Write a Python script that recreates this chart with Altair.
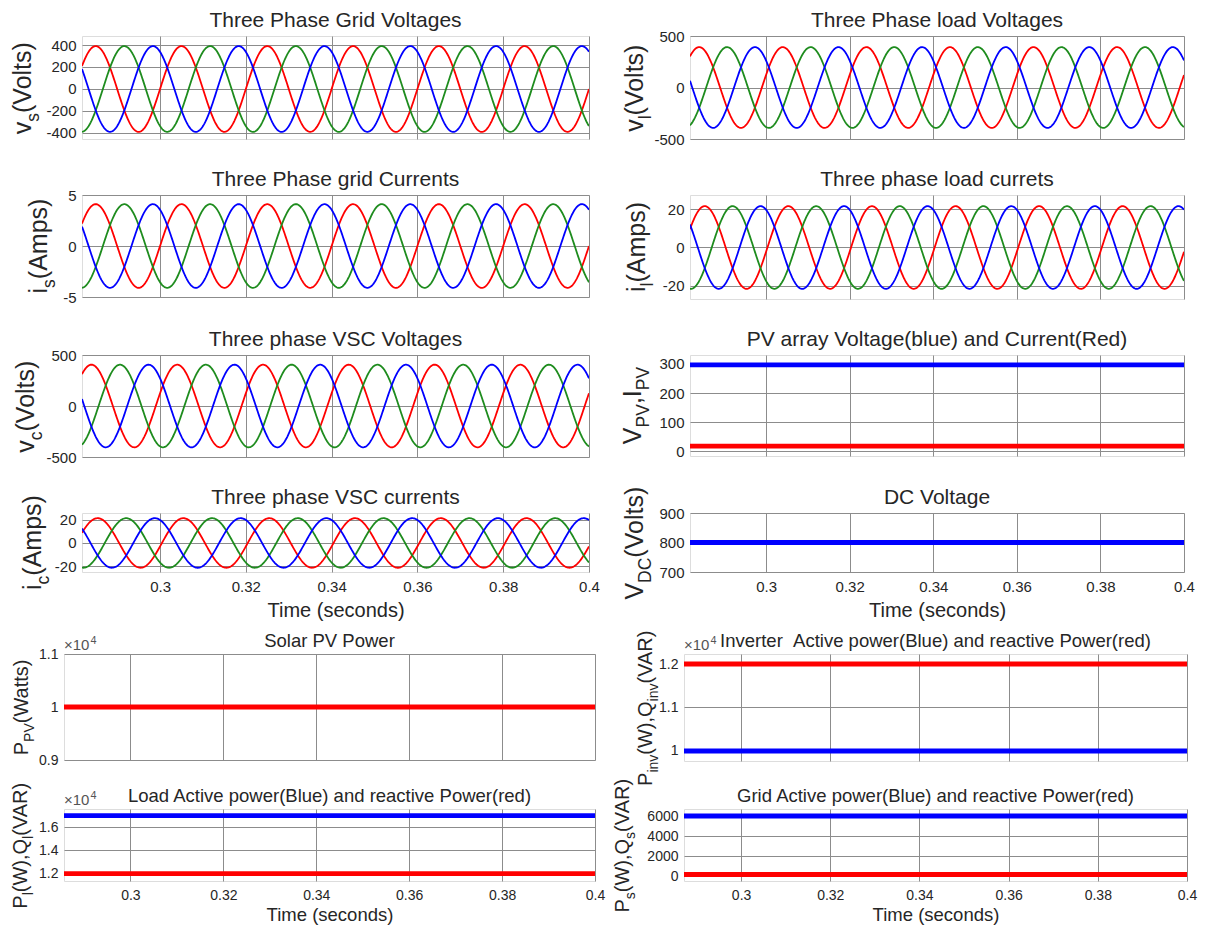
import numpy as np
import pandas as pd
import altair as alt

FONT = "Liberation Sans"
INK = "#262626"
GRID_COLOR = "#8c8c8c"
RED = "#ff0000"
GREEN = "#1e8c1e"
BLUE = "#0000ff"

# ---------------- values ----------------
T_END = 0.4
T_START_TOP = 0.2818
T_START_BOTTOM_LEFT = 0.2857
T_START_BOTTOM_RIGHT = 0.2872
FREQ_HZ = 50
X_TICKS = [0.3, 0.32, 0.34, 0.36, 0.38, 0.4]

# three-phase waveforms: phase a (red), b (green), c (blue)
WAVE_NAMES = ["grid_v", "load_v", "grid_i", "load_i", "vsc_v", "vsc_i"]
WAVE_PEAK = [390, 392, 4.1, 21.5, 405, 21.5]
WAVE_ANGLE_DEG = [0, 18, 0, -6, 18, -8]
PHASE_OFFSET_DEG = [0, -120, 120]

PV_VOLTAGE = 297
PV_CURRENT = 17
DC_VOLTAGE = 800
PV_POWER = 10000
INV_ACTIVE = 10000
INV_REACTIVE = 12000
LOAD_ACTIVE = 17000
LOAD_REACTIVE = 12000
GRID_ACTIVE = 6000
GRID_REACTIVE = 150

# ---------------- helpers ----------------
ONE = pd.DataFrame({"k": [0]})
ARIAL_W = {
    'a': 556, 'b': 556, 'c': 500, 'd': 556, 'e': 556, 'f': 278, 'g': 556, 'h': 556, 'i': 222,
    'j': 222, 'k': 500, 'l': 222, 'm': 833, 'n': 556, 'o': 556, 'p': 556, 'q': 556, 'r': 333,
    's': 500, 't': 278, 'u': 556, 'v': 500, 'w': 722, 'x': 500, 'y': 500, 'z': 500,
    'A': 667, 'B': 667, 'C': 722, 'D': 722, 'E': 667, 'F': 611, 'G': 778, 'H': 722, 'I': 278,
    'L': 556, 'M': 833, 'N': 722, 'O': 778, 'P': 667, 'Q': 778, 'R': 722, 'S': 667, 'T': 611,
    'U': 722, 'V': 667, 'W': 944, '(': 333, ')': 333, ',': 278, ' ': 278, '.': 278, ';': 278,
    '×': 584,
}


def text_w(s, size):
    return sum(ARIAL_W.get(ch, 556) for ch in s) / 1000.0 * size


def txt(text, x, y, size, angle=0, align="left", baseline="alphabetic", color=INK):
    kw = dict(text=text, align=align, baseline=baseline, font=FONT, fontSize=size, color=color)
    if angle:
        kw["angle"] = angle
    return alt.Chart(ONE).mark_text(**kw).encode(x=alt.value(x), y=alt.value(y))


def anchor(x, y):
    # invisible point that fixes the outer extent of a section
    return (alt.Chart(ONE).mark_point(size=1, opacity=0, filled=True)
            .encode(x=alt.value(x), y=alt.value(y)))


def ylabel(segments, x_base, center_y, size, sub_scale=0.7, sub_shift=0.3):
    sizes = [size * sub_scale if k == "sub" else size for _, k in segments]
    widths = [text_w(t, s) for (t, _), s in zip(segments, sizes)]
    y = center_y + sum(widths) / 2
    out = []
    for (t, k), s, w in zip(segments, sizes, widths):
        x = x_base + (sub_shift * size if k == "sub" else 0)
        out.append(txt(t, x, y, s, angle=270))
        y -= w
    return out


def times_e4(size, dy):
    return [txt("×10", 0, dy, size, color="#555555"),
            txt("4", text_w("×10", size) + 1, dy - 6, size * 0.72, color="#555555")]


def wave_frames(name, t0):
    i = WAVE_NAMES.index(name)
    t = np.linspace(t0, T_END, 700)
    frames = []
    for off in PHASE_OFFSET_DEG:
        ang = 2 * np.pi * FREQ_HZ * t + np.deg2rad(WAVE_ANGLE_DEG[i] + off)
        frames.append(pd.DataFrame({"t": t, "v": WAVE_PEAK[i] * np.sin(ang)}))
    return frames


def const_frame(value, t0, scale=1.0):
    return pd.DataFrame({"t": [t0, T_END], "v": [value / scale, value / scale]})


def panel(series, width, height, t0, ydom, yticks, title, ylab, ylab_x, show_x,
          fs_title, fs_tick, fs_ylab, fs_xlab, title_dy, lab_pad, title_pad, extra=()):
    x_axis = dict(values=X_TICKS, grid=True, gridColor=GRID_COLOR, gridWidth=1,
                  ticks=False, domain=False, labels=show_x)
    if show_x:
        x_axis.update(format=".2~f", labelFont=FONT, labelFontSize=fs_tick, labelColor=INK,
                      labelPadding=lab_pad, labelFlush=False, title="Time (seconds)",
                      titleFont=FONT, titleFontSize=fs_xlab, titleFontWeight="normal",
                      titleColor=INK, titlePadding=title_pad)
    else:
        x_axis.update(title=None)
    xenc = alt.X("t:Q", scale=alt.Scale(domain=[t0, T_END], nice=False, zero=False),
                 axis=alt.Axis(**x_axis))
    yenc = alt.Y("v:Q", scale=alt.Scale(domain=ydom, nice=False, zero=False),
                 axis=alt.Axis(values=yticks, grid=True, gridColor=GRID_COLOR, gridWidth=1,
                               ticks=False, domain=False, labelExpr="toString(datum.value)",
                               labelFont=FONT, labelFontSize=fs_tick, labelColor=INK,
                               labelPadding=6, title=None))
    layers = []
    for df, color, sw in series:
        layers.append(alt.Chart(df).mark_line(color=color, strokeWidth=sw, clip=True)
                      .encode(x=xenc, y=yenc))
    layers.append(txt(title, width / 2, title_dy, fs_title, align="center"))
    layers += ylabel(ylab, ylab_x, height / 2, fs_ylab)
    layers += list(extra)
    return alt.layer(*layers).properties(width=width, height=height)


def spacer(w):
    return (alt.Chart(ONE).mark_point(size=1, opacity=0)
            .encode(x=alt.value(w / 2), y=alt.value(0.5))
            .properties(width=w, height=1, view=alt.ViewBackground(stroke="transparent")))


# font sizes / paddings
TOP = dict(fs_title=21, fs_tick=15, fs_ylab=25, fs_xlab=20, title_dy=-9, lab_pad=7, title_pad=6)
BOT = dict(fs_title=18.5, fs_tick=14, fs_ylab=20, fs_xlab=18.5, title_dy=-7.5, lab_pad=7,
           title_pad=3)
WS = 1.8   # waveform line width
CS = 4.8   # constant line width
N, S = "n", "sub"

gv = wave_frames("grid_v", T_START_TOP)
lv = wave_frames("load_v", T_START_TOP)
gi = wave_frames("grid_i", T_START_TOP)
li = wave_frames("load_i", T_START_TOP)
cv = wave_frames("vsc_v", T_START_TOP)
ci = wave_frames("vsc_i", T_START_TOP)


def three(fr):
    return [(fr[0], RED, WS), (fr[1], GREEN, WS), (fr[2], BLUE, WS)]


LW, RW = 507, 494
H7 = 59
p1 = panel(three(gv), LW, 103, T_START_TOP, [-455, 482], [-400, -200, 0, 200, 400],
           "Three Phase Grid Voltages", [("v", N), ("s", S), ("(Volts)", N)], -51, False,
           extra=[anchor(-60, -27)], **TOP)
p2 = panel(three(lv), RW, 103, T_START_TOP, [-500, 500], [-500, 0, 500],
           "Three Phase load Voltages", [("v", N), ("l", S), ("(Volts)", N)], -47, False, **TOP)
p3 = panel(three(gi), LW, 102, T_START_TOP, [-5, 5], [-5, 0, 5],
           "Three Phase grid Currents", [("i", N), ("s", S), ("(Amps)", N)], -35, False, **TOP)
p4 = panel(three(li), RW, 104, T_START_TOP, [-26.8, 27.3], [-20, 0, 20],
           "Three phase load currets", [("i", N), ("l", S), ("(Amps)", N)], -45, False, **TOP)
p5 = panel(three(cv), LW, 102, T_START_TOP, [-500, 500], [-500, 0, 500],
           "Three phase VSC Voltages", [("v", N), ("c", S), ("(Volts)", N)], -48, False, **TOP)
p6 = panel([(const_frame(PV_VOLTAGE, T_START_TOP), BLUE, CS),
            (const_frame(PV_CURRENT, T_START_TOP), RED, CS)],
           RW, 101, T_START_TOP, [-17, 331], [0, 100, 200, 300],
           "PV array Voltage(blue) and Current(Red)",
           [("V", N), ("PV", S), (",", N), ("I", N), ("PV", S)], -49, False, **TOP)
p7 = panel(three(ci), LW, H7, T_START_TOP, [-25.2, 26], [-20, 0, 20],
           "Three phase VSC currents", [("i", N), ("c", S), ("(Amps)", N)], -41, True,
           extra=[anchor(0, H7 + 51)], **TOP)
p8 = panel([(const_frame(DC_VOLTAGE, T_START_TOP), BLUE, CS)],
           RW, H7, T_START_TOP, [700, 900], [700, 800, 900],
           "DC Voltage", [("V", N), ("DC", S), ("(Volts)", N)], -47, True, **TOP)

BLW, BRW = 531, 503
p9 = panel([(const_frame(PV_POWER, T_START_BOTTOM_LEFT, 1e4), RED, CS)],
           BLW, 106, T_START_BOTTOM_LEFT, [0.9, 1.1], [0.9, 1, 1.1],
           "Solar PV Power", [("P", N), ("PV", S), ("(Watts)", N)], -36, False,
           extra=times_e4(15, -4) + [anchor(0, -29)], **BOT)
p10 = panel([(const_frame(INV_REACTIVE, T_START_BOTTOM_RIGHT, 1e4), RED, CS),
             (const_frame(INV_ACTIVE, T_START_BOTTOM_RIGHT, 1e4), BLUE, CS)],
            BRW, 107, T_START_BOTTOM_RIGHT, [0.977, 1.223], [1, 1.1, 1.2],
            "Inverter \u00a0Active power(Blue) and reactive Power(red)",
            [("P", N), ("inv", S), ("(W),Q", N), ("inv", S), ("(VAR)", N)], -32, False,
            extra=times_e4(15, -4), **BOT)
p11 = panel([(const_frame(LOAD_REACTIVE, T_START_BOTTOM_LEFT, 1e4), RED, CS),
             (const_frame(LOAD_ACTIVE, T_START_BOTTOM_LEFT, 1e4), BLUE, CS)],
            BLW, 72, T_START_BOTTOM_LEFT, [1.136, 1.757], [1.2, 1.4, 1.6],
            "Load Active power(Blue) and reactive Power(red)",
            [("P", N), ("l", S), ("(W),Q", N), ("l", S), ("(VAR)", N)], -37, True,
            extra=times_e4(15, -4), **BOT)
p12 = panel([(const_frame(GRID_REACTIVE, T_START_BOTTOM_RIGHT), RED, CS),
             (const_frame(GRID_ACTIVE, T_START_BOTTOM_RIGHT), BLUE, CS)],
            BRW, 72, T_START_BOTTOM_RIGHT, [-500, 6700], [0, 2000, 4000, 6000],
            "Grid Active power(Blue) and reactive Power(red)",
            [("P", N), ("s", S), ("(W),Q", N), ("s", S), ("(VAR)", N)], -55, True, **BOT)

# leading spacer columns give the top and bottom blocks their own left offsets
top = alt.concat(spacer(7), p1, p2, spacer(7), p3, p4, spacer(7), p5, p6, spacer(7), p7, p8,
                 columns=3, spacing={"row": 56, "column": 101}, bounds="flush", align="each")
bottom = alt.concat(spacer(1), p9, p10, spacer(1), p11, p12, columns=3,
                    spacing={"row": 48, "column": 89}, bounds="flush", align="each")

chart = (alt.vconcat(top, bottom, spacing=0, bounds="full")
         .properties(padding={"left": -35, "top": 0, "right": 4, "bottom": 2})
         .configure_view(stroke=INK, strokeWidth=1)
         .configure(background="white"))

chart.save("out.html", embed_options={"renderer": "svg", "actions": False})
